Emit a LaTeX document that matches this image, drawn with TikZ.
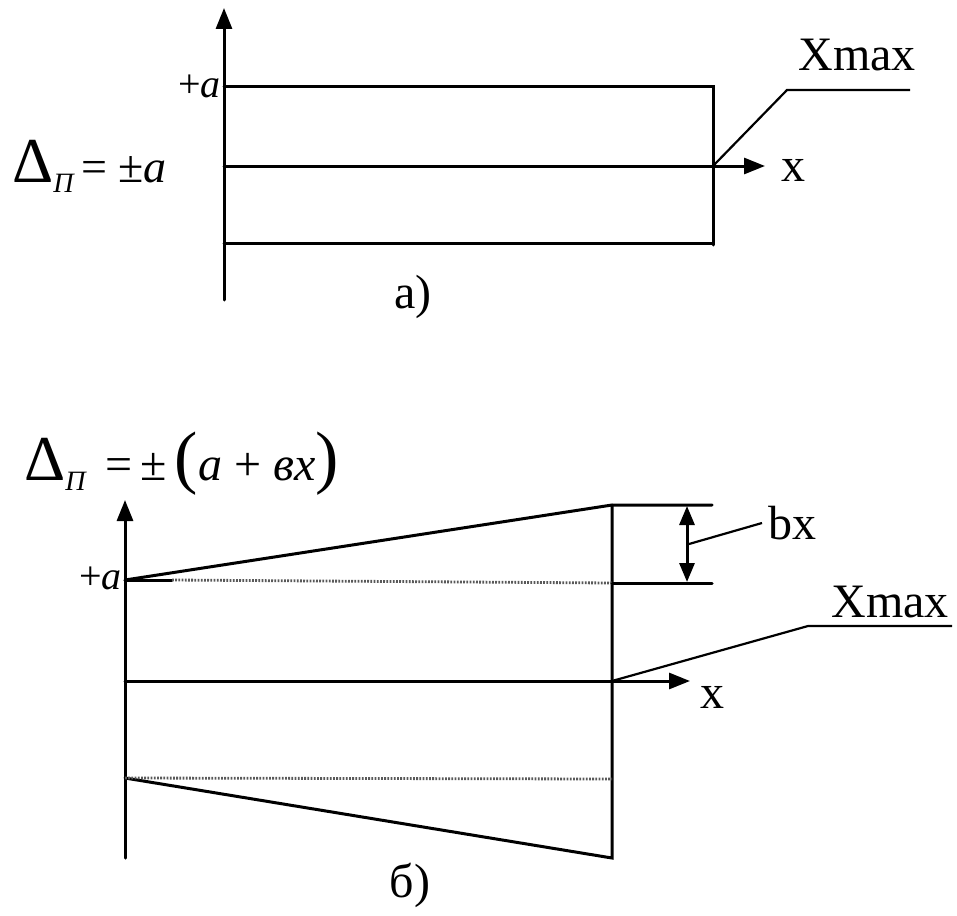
\documentclass[tikz,border=0pt]{standalone}
\usepackage{fontspec}
\setmainfont{Liberation Serif}
\usetikzlibrary{arrows.meta}
\tikzset{
  ln/.style={line width=3pt, line cap=round, line join=miter},
  axis/.style={ln, -{Triangle[length=21pt,width=16pt]}},
  dimarr/.style={ln, {Triangle[length=19pt,width=15pt]}-{Triangle[length=19pt,width=15pt]}},
  leader/.style={line width=2.2pt},
  dots/.style={line width=2.8pt, dash pattern=on 1.8pt off 1.4pt, black!65},
  lbl/.style={inner sep=0pt, font=\fontsize{48}{48}\selectfont},
  small/.style={inner sep=0pt, font=\fontsize{40}{40}\selectfont},
}
\newcommand{\bigD}{{\fontsize{64}{64}\selectfont Δ}}
\newcommand{\subP}{\raisebox{-10pt}{\fontsize{28}{28}\selectfont\itshape П}}
\begin{document}
\begin{tikzpicture}[x=1pt,y=-1pt]
\useasboundingbox (0,0) rectangle (957,915);
\fill[white] (0,0) rectangle (957,915);
% ---------- a) ----------
\coordinate (aO) at (224,300);
\coordinate (aTop) at (224,8);
\coordinate (aP1) at (224,87);
\coordinate (aP2) at (713,87);
\coordinate (aP3) at (713,245);
\coordinate (aM1) at (224,166);
\coordinate (aMend) at (765,166);
\coordinate (aB1) at (224,243);
\coordinate (aB2) at (713,243);
\coordinate (aX) at (713,166);
\coordinate (aL1) at (787,90);
\coordinate (aL2) at (910,90);
\draw[axis] (aO) -- (aTop);
\draw[ln] (aP1) -- (aP2) -- (aP3);
\draw[ln] (aB1) -- (aB2);
\draw[axis] (aM1) -- (aMend);
\draw[leader] (aX) -- (aL1) -- (aL2);
\node[lbl] (ax) at (793,170) {x};
\node[lbl] (axmax) at (857,55) {Xmax};
\node[small, anchor=east] (aplus) at (221,86) {+\textit{a}};
\node[inner sep=0pt, font=\fontsize{46}{46}\selectfont, anchor=west] (aform) at (12,166) {\bigD\subP\,= ±\textit{a}};
\node[lbl] (acap) at (413,297) {а)};
% ---------- b) ----------
\coordinate (bO) at (125,858);
\coordinate (bTop) at (125,500);
\coordinate (bA) at (125,580);
\coordinate (bTR) at (612,505);
\coordinate (bTE) at (712,505);
\coordinate (bMR) at (612,583);
\coordinate (bME) at (712,583);
\coordinate (bBR) at (612,858);
\coordinate (bM1) at (125,681);
\coordinate (bMend) at (690,681);
\coordinate (bX) at (612,681);
\coordinate (bL) at (125,778);
\coordinate (bLR) at (612,779);
\coordinate (bD1) at (687,506);
\coordinate (bD2) at (687,582);
\coordinate (bDm) at (689,544);
\coordinate (bbx) at (762,523);
\coordinate (bXL1) at (808,626);
\coordinate (bXL2) at (952,626);
\draw[axis] (bO) -- (bTop);
\draw[ln] (bA) -- (bTR) -- (bTE);
\draw[ln] (bTR) -- (bBR) -- (bL);
\draw[ln] (bA) -- (172,580);
\draw[dots] (172,580) -- (bMR);
\draw[ln] (bMR) -- (bME);
\draw[dots] (bL) -- (bLR);
\draw[axis] (bM1) -- (bMend);
\draw[dimarr] (bD1) -- (bD2);
\draw[leader] (bDm) -- (bbx);
\draw[leader] (bX) -- (bXL1) -- (bXL2);
\node[lbl] (bxl) at (712,697) {x};
\node[lbl] (bbxl) at (792,523) {bx};
\node[lbl] (bxmax) at (890,602) {Xmax};
\node[small, anchor=east] (bplus) at (122,578) {+\textit{a}};
\node[inner sep=0pt, font=\fontsize{48}{48}\selectfont, anchor=west] (bform) at (24,464) {\bigD\subP\ \,=\,±\,{\fontsize{70}{70}\selectfont(}\textit{a} + \textit{вx}{\fontsize{70}{70}\selectfont)}};
\node[lbl] (bcap) at (410,885) {б)};
\end{tikzpicture}
\end{document}
